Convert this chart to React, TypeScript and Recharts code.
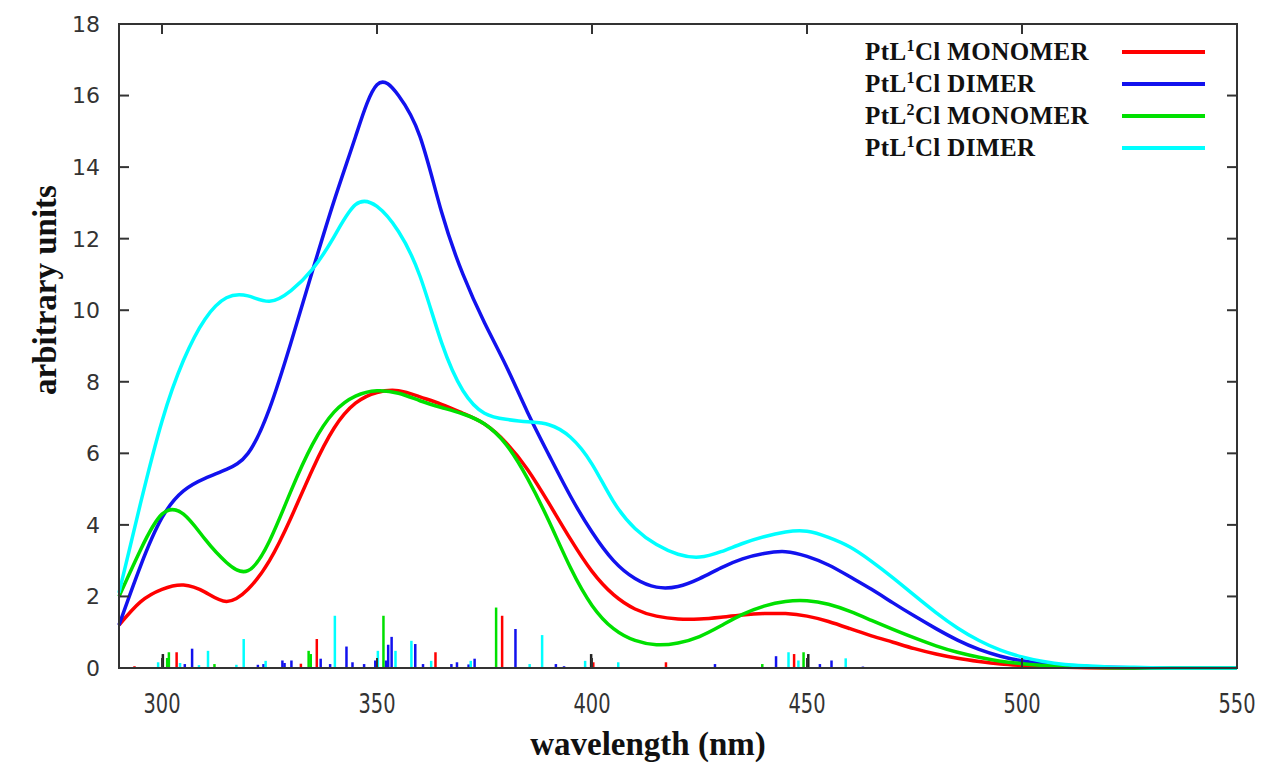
import {
  ComposedChart,
  Line,
  XAxis,
  YAxis,
  ReferenceLine,
  ReferenceArea,
  ReferenceDot,
  CartesianGrid,
  Label,
} from "recharts";

// wavelength grid (nm) and simulated spectra
const wavelengths = [
  290, 295, 300, 305, 310, 315, 320, 325, 330, 335, 340, 345, 350, 355, 360, 365, 370, 375, 380, 385,
  390, 395, 400, 405, 410, 415, 420, 425, 430, 435, 440, 445, 450, 455, 460, 465, 470, 475, 480, 485,
  490, 495, 500, 505, 510, 515, 520, 525, 530, 535, 540, 545, 550,
];
const l1Monomer = [
  1.2, 1.85, 2.2, 2.32, 2.12, 1.86, 2.2, 3.0, 4.2, 5.55, 6.7, 7.4, 7.7, 7.75, 7.58, 7.37, 7.12, 6.82, 6.3, 5.55,
  4.6, 3.6, 2.7, 2.05, 1.65, 1.45, 1.37, 1.37, 1.42, 1.48, 1.52, 1.52, 1.45, 1.3, 1.1, 0.9, 0.72, 0.54, 0.39, 0.27,
  0.18, 0.11, 0.07, 0.04, 0.02, 0.01, 0, 0, 0, 0, 0, 0, 0,
];
const l1Dimer = [
  1.2, 2.85, 4.2, 4.95, 5.3, 5.55, 6.0, 7.25, 9.1, 11.1, 13.05, 14.85, 16.3, 16.0, 14.85, 12.75, 11.0, 9.65, 8.45, 7.15,
  5.95, 4.8, 3.8, 3.0, 2.5, 2.26, 2.28, 2.5, 2.8, 3.05, 3.2, 3.25, 3.12, 2.88, 2.55, 2.2, 1.82, 1.45, 1.1, 0.78,
  0.52, 0.33, 0.2, 0.12, 0.07, 0.04, 0.02, 0.01, 0, 0, 0, 0, 0,
];
const l2Monomer = [
  2.0, 3.3, 4.3, 4.3, 3.6, 2.95, 2.72, 3.55, 4.95, 6.25, 7.15, 7.6, 7.75, 7.68, 7.47, 7.28, 7.1, 6.82, 6.25, 5.3,
  4.1, 2.8, 1.75, 1.1, 0.77, 0.65, 0.7, 0.88, 1.18, 1.5, 1.73, 1.86, 1.88, 1.78, 1.58, 1.33, 1.08, 0.84, 0.62, 0.44,
  0.3, 0.19, 0.12, 0.07, 0.04, 0.02, 0.01, 0, 0, 0, 0, 0, 0,
];
const l1DimerB = [
  2.1, 4.6, 6.9, 8.6, 9.75, 10.35, 10.4, 10.25, 10.55, 11.15, 12.05, 12.95, 12.9, 12.2, 10.95, 9.1, 7.75, 7.12, 6.95, 6.88,
  6.8, 6.45, 5.7, 4.65, 3.9, 3.45, 3.18, 3.1, 3.25, 3.48, 3.67, 3.8, 3.82, 3.65, 3.38, 2.98, 2.52, 2.03, 1.55, 1.12,
  0.77, 0.5, 0.31, 0.18, 0.1, 0.06, 0.03, 0.02, 0.01, 0, 0, 0, 0,
];

// oscillator strengths: [wavelength, height]
const redSticks = [
  [293.6, 0.05], [303.4, 0.44], [332.3, 0.12], [336.0, 0.81], [363.6, 0.44], [379.1, 1.46],
  [400.3, 0.16], [417.2, 0.16], [447.0, 0.39],
];
const blueSticks = [
  [305.3, 0.11], [307.0, 0.54], [322.3, 0.09], [323.6, 0.11], [328.0, 0.21], [328.5, 0.14], [330.1, 0.21],
  [336.9, 0.26], [339.1, 0.11], [342.9, 0.6], [344.3, 0.16], [347.0, 0.11], [349.6, 0.21], [352.1, 0.21],
  [352.6, 0.65], [353.4, 0.87], [358.9, 0.67], [360.7, 0.11], [367.3, 0.11], [368.6, 0.16], [371.3, 0.1],
  [372.7, 0.26], [382.2, 1.09], [391.6, 0.11], [393.5, 0.05], [428.6, 0.11], [442.8, 0.33], [453.0, 0.11],
  [455.7, 0.21], [463.0, 0.04],
];
const greenSticks = [
  [301.2, 0.28], [301.6, 0.44], [312.2, 0.11], [334.1, 0.48], [334.6, 0.39], [351.5, 1.46], [377.7, 1.69],
  [439.6, 0.11], [449.2, 0.44],
];
const cyanSticks = [
  [299.1, 0.16], [304.2, 0.14], [308.6, 0.08], [310.7, 0.48], [317.3, 0.09], [319.0, 0.81], [324.1, 0.2],
  [340.2, 1.46], [350.2, 0.48], [354.3, 0.48], [358.0, 0.76], [362.6, 0.2], [371.8, 0.2], [385.5, 0.11],
  [388.4, 0.92], [398.4, 0.2], [406.1, 0.16], [445.7, 0.44], [448.0, 0.21], [459.0, 0.27],
];
const blackSticks = [
  [300.2, 0.39], [399.8, 0.39], [450.3, 0.39],
];

const X_MIN = 290;
const X_MAX = 550;
const Y_MAX = 18;
const xTicks = [300, 350, 400, 450, 500, 550];
const yTicks = [0, 2, 4, 6, 8, 10, 12, 14, 16, 18];

// legend entries, in the order shown
const legendLigand = ["1", "1", "2", "1"];
const legendForm = ["MONOMER", "DIMER", "MONOMER", "DIMER"];

const RED = "#ff0000";
const BLUE = "#1212ee";
const GREEN = "#00e000";
const CYAN = "#00ffff";
const BLACK = "#222222";
const FRAME = "#333333";
const seriesColors = [RED, BLUE, GREEN, CYAN];
const seriesKeys = ["m1", "d1", "m2", "d1b"];

const TICK_LEN = 10;
const Y_GAP = 19;
const X_GAP = 25;

const rows = wavelengths.map((w, i) => ({
  nm: w,
  m1: l1Monomer[i],
  d1: l1Dimer[i],
  m2: l2Monomer[i],
  d1b: l1DimerB[i],
}));

const stickGroups = [
  { color: RED, sticks: redSticks },
  { color: BLUE, sticks: blueSticks },
  { color: GREEN, sticks: greenSticks },
  { color: CYAN, sticks: cyanSticks },
  { color: BLACK, sticks: blackSticks },
];

function LeftTick(props: any) {
  const { x, y, payload } = props;
  return (
    <g>
      <line x1={x + Y_GAP} x2={x + Y_GAP + TICK_LEN} y1={y} y2={y} stroke={FRAME} strokeWidth={2} />
      <text x={x} y={y} dy="0.36em" textAnchor="end" fill="#333" fontSize={22} fontFamily="DejaVu Sans">
        {payload.value}
      </text>
    </g>
  );
}

function BottomTick(props: any) {
  const { x, y, payload } = props;
  return (
    <g>
      <line x1={x} x2={x} y1={y - X_GAP} y2={y - X_GAP - TICK_LEN} stroke={FRAME} strokeWidth={2} />
      <text
        transform={`translate(${x},${y}) scale(0.72,1)`}
        dy="0.73em"
        textAnchor="middle"
        fill="#333"
        fontSize={27}
        fontFamily="DejaVu Sans"
      >
        {payload.value}
      </text>
    </g>
  );
}

function TopTickMark(props: any) {
  const { cx, cy } = props;
  return <line x1={cx} x2={cx} y1={cy} y2={cy + TICK_LEN} stroke={FRAME} strokeWidth={2} />;
}

function RightTickMark(props: any) {
  const { cx, cy } = props;
  return <line x1={cx} x2={cx - TICK_LEN} y1={cy} y2={cy} stroke={FRAME} strokeWidth={2} />;
}

function SpectrumLegend() {
  return (
    <div
      style={{
        position: "absolute",
        left: 865,
        top: 36,
        fontFamily: "'Liberation Serif', 'Times New Roman', serif",
        fontWeight: "bold",
        fontSize: 25,
        letterSpacing: 0.4,
        color: "#111",
      }}
    >
      {legendForm.map((form, i) => (
        <div key={i} style={{ display: "flex", alignItems: "center", height: 32 }}>
          <span style={{ width: 257, whiteSpace: "nowrap" }}>
            PtL<sup style={{ fontSize: 16, verticalAlign: "9px", lineHeight: 0 }}>{legendLigand[i]}</sup>Cl {form}
          </span>
          <span style={{ display: "inline-block", width: 83, height: 4, background: seriesColors[i] }} />
        </div>
      ))}
    </div>
  );
}

export default function App() {
  return (
    <div style={{ position: "absolute", left: 0, top: 0, width: 1269, height: 763, background: "#fff" }}>
      <ComposedChart width={1269} height={763} data={rows} margin={{ top: 24, right: 32, bottom: 0, left: 0 }}>
        {/* top and right borders of the box, placed from the plot offset */}
        <CartesianGrid
          xAxisId="b"
          yAxisId="l"
          stroke={FRAME}
          strokeWidth={2}
          horizontalCoordinatesGenerator={(p: any) => [p.offset.top]}
          verticalCoordinatesGenerator={(p: any) => [p.offset.left + p.offset.width]}
        />
        <XAxis
          xAxisId="b"
          dataKey="nm"
          type="number"
          domain={[X_MIN, X_MAX]}
          ticks={xTicks}
          interval={0}
          height={95}
          tickSize={0}
          tickMargin={X_GAP}
          tick={<BottomTick />}
          axisLine={{ stroke: FRAME, strokeWidth: 2 }}
        >
          <Label
            content={(lp: any) => {
              const vb = lp.viewBox;
              return (
                <text
                  x={vb.x + vb.width / 2 - 30}
                  y={vb.y + 87}
                  textAnchor="middle"
                  fontFamily="'Liberation Serif', serif"
                  fontWeight="bold"
                  fontSize={33}
                  fill="#111"
                >
                  wavelength (nm)
                </text>
              );
            }}
          />
        </XAxis>
        <YAxis
          yAxisId="l"
          type="number"
          domain={[0, Y_MAX]}
          ticks={yTicks}
          interval={0}
          width={119}
          tickSize={0}
          tickMargin={Y_GAP}
          tick={<LeftTick />}
          axisLine={{ stroke: FRAME, strokeWidth: 2 }}
        >
          <Label
            content={(lp: any) => {
              const vb = lp.viewBox;
              const cx = vb.x + 56;
              const cy = vb.y + vb.height / 2 - 56;
              return (
                <text
                  x={cx}
                  y={cy}
                  transform={`rotate(-90 ${cx} ${cy})`}
                  textAnchor="middle"
                  fontFamily="'Liberation Serif', serif"
                  fontWeight="bold"
                  fontSize={33}
                  fill="#111"
                >
                  arbitrary units
                </text>
              );
            }}
          />
        </YAxis>

        <ReferenceArea
          xAxisId="b"
          yAxisId="l"
          x1={X_MIN}
          x2={X_MAX}
          y1={0}
          y2={Y_MAX}
          fill="none"
          fillOpacity={0}
          stroke={FRAME}
          strokeWidth={2}
          ifOverflow="visible"
        />
        {xTicks.map((t) => (
          <ReferenceDot
            key={`tt${t}`}
            xAxisId="b"
            yAxisId="l"
            x={t}
            y={Y_MAX}
            ifOverflow="visible"
            shape={(p: any) => <TopTickMark {...p} />}
          />
        ))}
        {yTicks.map((t) => (
          <ReferenceDot
            key={`rt${t}`}
            xAxisId="b"
            yAxisId="l"
            x={X_MAX}
            y={t}
            ifOverflow="visible"
            shape={(p: any) => <RightTickMark {...p} />}
          />
        ))}

        {stickGroups.flatMap((g, gi) =>
          g.sticks.map(([w, h], si) => (
            <ReferenceLine
              key={`s${gi}-${si}`}
              xAxisId="b"
              yAxisId="l"
              segment={[
                { x: w, y: 0 },
                { x: w, y: h },
              ]}
              stroke={g.color}
              strokeWidth={2.5}
              ifOverflow="visible"
            />
          ))
        )}

        {seriesKeys.map((k, i) => (
          <Line
            key={k}
            xAxisId="b"
            yAxisId="l"
            type="natural"
            dataKey={k}
            stroke={seriesColors[i]}
            strokeWidth={3.5}
            dot={false}
            isAnimationActive={false}
          />
        ))}
      </ComposedChart>
      <SpectrumLegend />
    </div>
  );
}
